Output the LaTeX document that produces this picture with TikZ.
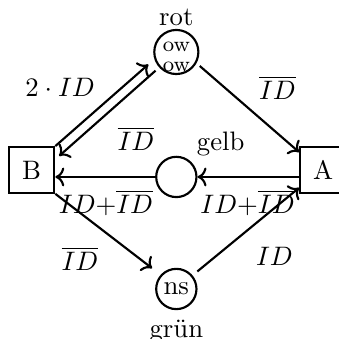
\documentclass[tikz,border=0pt]{standalone}
\usetikzlibrary{arrows.meta,positioning}

\begin{document}
\begin{tikzpicture}[
  place/.style={circle, draw, thick, minimum size=0.53cm, inner sep=0pt},
  transition/.style={rectangle, draw, thick, minimum size=0.6cm, inner sep=0pt},
  arc/.style={->, thick},
  owtoken/.style={font=\footnotesize, inner sep=0pt}]
\useasboundingbox (0,0) rectangle (4.46,4.46);
% places
\node[place, minimum size=0.58cm, label={[inner sep=1pt]above:rot}] (rot) at (2.32,3.776) {};
\node[owtoken] (ow1) at ([yshift=0.07cm]rot.center) {ow};
\node[owtoken] (ow2) at ([yshift=-0.2cm]rot.center) {ow};
\node[place, label={[label distance=-2pt]45:gelb}] (gelb) at (2.32,2.132) {};
\node[place, label={below:grün}] (gruen) at (2.32,0.658) {ns};
% transitions
\node[transition] (B) at (0.414,2.224) {B};
\node[transition] (A) at (4.25,2.224) {A};
% arcs
\draw[arc, shorten >=3pt] (B.north east) -- (rot.198);
\draw[arc, shorten <=1.8pt] (rot.222) -- ([shift={(0.05,-0.13)}]B.north east);
\draw[arc, shorten <=1.6pt] (rot.-29) -- ([yshift=-0.08cm]A.north west);
\draw[arc] (gelb -| A.west) -- (gelb.east);
\draw[arc] (gelb.west) -- (gelb -| B.east);
\draw[arc, shorten >=4pt] (B.south east) -- (gruen.138);
\draw[arc, shorten <=2.3pt] (gruen.40) -- ([yshift=0.08cm]A.south west);
% inscriptions
\node (iBrot) at (0.79,3.316) {$2\cdot ID$};
\node (irotB) at (1.789,2.638) {$\overline{ID}$};
\node (irotA) at (3.651,3.309) {$\overline{ID}$};
\node (igelbB) at (1.395,1.796) {$ID{+}\overline{ID}$};
\node (iAgelb) at (3.257,1.796) {$ID{+}\overline{ID}$};
\node (iBgruen) at (1.053,1.059) {$\overline{ID}$};
\node (igruenA) at (3.612,1.092) {$ID$};
\end{tikzpicture}
\end{document}
